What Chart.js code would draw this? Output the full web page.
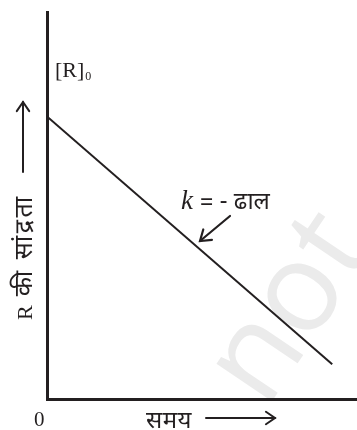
<!DOCTYPE html>
<html>
<head>
<meta charset="utf-8">
<script src="https://cdn.jsdelivr.net/npm/chart.js@4"></script>
<style>
  html, body { margin: 0; padding: 0; background: #fff; overflow: hidden; }
  #wrap { width: 357px; height: 430px; position: relative; }
</style>
</head>
<body>
<div id="wrap"><canvas id="c"></canvas></div>
<script>
// Data (arbitrary units)
const timeValues = [0, 9.2];
const concValues = [7.3, 0.9];
const xRange = [0, 10];
const yRange = [0, 10];
const yTitle = 'की सांद्रता';
const xTitle = 'समय';
const originLabel = '0';
const r0Label = '[R]';
const slopeLabel = '= - ढाल';

const ink = '#231f20';
const serif = '"Liberation Serif", "DejaVu Serif", serif';
const deva = '"Noto Sans Devanagari", "Lohit Devanagari", "Noto Sans", sans-serif';

function arrow(ctx, x1, y1, x2, y2, head) {
  const a = Math.atan2(y2 - y1, x2 - x1);
  ctx.beginPath();
  ctx.moveTo(x1, y1); ctx.lineTo(x2, y2);
  ctx.stroke();
  ctx.beginPath();
  ctx.moveTo(x2 - head * Math.cos(a - 0.6), y2 - head * Math.sin(a - 0.6));
  ctx.lineTo(x2, y2);
  ctx.lineTo(x2 - head * Math.cos(a + 0.6), y2 - head * Math.sin(a + 0.6));
  ctx.stroke();
}

const watermark = {
  id: 'watermark',
  beforeDraw(chart) {
    const ctx = chart.ctx;
    ctx.save();
    ctx.translate(266, 410);
    ctx.rotate(-56 * Math.PI / 180);
    ctx.fillStyle = '#ebebeb';
    ctx.font = '125px "Open Sans", sans-serif';
    ctx.textBaseline = 'alphabetic';
    ctx.fillText('not', 0, 0);
    ctx.restore();
  }
};

const labels = {
  id: 'labels',
  afterDraw(chart) {
    const ctx = chart.ctx;
    ctx.save();
    ctx.fillStyle = ink;
    ctx.strokeStyle = ink;
    ctx.lineCap = 'round';
    ctx.textBaseline = 'alphabetic';

    // [R]0
    ctx.font = '22px ' + serif;
    ctx.fillText(r0Label, 55, 77);
    const w = ctx.measureText(r0Label).width;
    ctx.font = '12px ' + serif;
    ctx.fillText('0', 55 + w + 1, 80);

    // origin 0
    ctx.font = '21px ' + serif;
    ctx.fillText(originLabel, 34, 426);

    // x title
    ctx.font = '24px ' + deva;
    ctx.letterSpacing = '0.5px';
    ctx.fillText(xTitle, 146, 428);
    ctx.letterSpacing = '0px';
    ctx.lineWidth = 2;
    arrow(ctx, 206, 418, 275, 418, 11);

    // y title (rotated)
    ctx.save();
    ctx.translate(32, 320);
    ctx.rotate(-Math.PI / 2);
    ctx.font = '22px ' + serif;
    ctx.fillText('R', 0, 0);
    const rw = ctx.measureText('R').width;
    ctx.font = '25px ' + deva;
    ctx.letterSpacing = '2.5px';
    ctx.fillText(yTitle, rw + 9, 0);
    ctx.letterSpacing = '0px';
    ctx.restore();
    arrow(ctx, 23, 172, 23, 102, 11);

    // k = - slope
    ctx.font = 'italic 27px ' + serif;
    ctx.fillText('k', 181, 209);
    ctx.font = '24px ' + deva;
    ctx.fillText(slopeLabel, 200, 209);
    ctx.lineWidth = 2.2;
    arrow(ctx, 230, 216, 200, 241, 12);
    ctx.restore();
  }
};

new Chart(document.getElementById('c'), {
  type: 'scatter',
  data: {
    datasets: [{
      data: timeValues.map((t, i) => ({ x: t, y: concValues[i] })),
      showLine: true,
      borderColor: ink,
      borderWidth: 2,
      pointRadius: 0,
      fill: false
    }]
  },
  options: {
    responsive: true,
    maintainAspectRatio: false,
    animation: false,
    layout: { padding: { left: 47, top: 12, bottom: 31, right: 0 } },
    plugins: { legend: { display: false }, tooltip: { enabled: false } },
    scales: {
      x: {
        min: xRange[0], max: xRange[1],
        ticks: { display: false },
        grid: { display: false, drawTicks: false },
        border: { display: true, color: ink, width: 3 }
      },
      y: {
        min: yRange[0], max: yRange[1],
        ticks: { display: false },
        grid: { display: false, drawTicks: false },
        border: { display: true, color: ink, width: 3 }
      }
    }
  },
  plugins: [watermark, labels]
});
</script>
</body>
</html>
